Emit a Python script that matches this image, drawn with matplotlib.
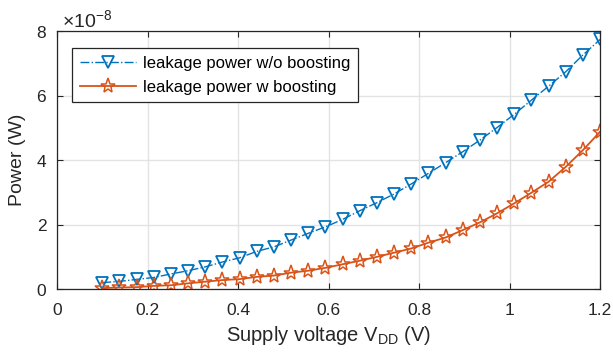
import numpy as np
import matplotlib
matplotlib.use("Agg")
import matplotlib.pyplot as plt
from matplotlib.ticker import ScalarFormatter, FormatStrFormatter

plt.rcParams['font.family'] = ['Liberation Sans', 'DejaVu Sans']
plt.rcParams['mathtext.fontset'] = 'custom'
plt.rcParams['mathtext.rm'] = 'Liberation Sans'

# supply voltage (V), 30 points from 0.1 to 1.2
vdd = np.linspace(0.1, 1.2, 30)

# leakage power in units of 1e-8 W
p_no_boost = [0.20, 0.24, 0.30, 0.36, 0.47, 0.57, 0.69, 0.84, 0.97, 1.17,
              1.31, 1.52, 1.73, 1.93, 2.16, 2.43, 2.68, 2.95, 3.26, 3.59,
              3.92, 4.26, 4.62, 5.01, 5.42, 5.86, 6.29, 6.74, 7.26, 7.74]
p_boost = [0.03, 0.05, 0.06, 0.10, 0.12, 0.18, 0.23, 0.28, 0.31, 0.38,
           0.42, 0.51, 0.57, 0.66, 0.77, 0.88, 1.00, 1.13, 1.26, 1.44,
           1.60, 1.83, 2.07, 2.35, 2.66, 2.99, 3.33, 3.79, 4.31, 4.88]

labels = ["leakage power w/o boosting", "leakage power w boosting"]
xticks = [0, 0.2, 0.4, 0.6, 0.8, 1.0, 1.2]
yticks = [0, 2e-8, 4e-8, 6e-8, 8e-8]

blue = '#0072BD'
orange = '#D95319'
axcol = '#262626'

fig = plt.figure(figsize=(6.13, 3.53), dpi=100)
ax = fig.add_axes([0.093, 0.181, 0.886, 0.731])

ax.plot(vdd, np.array(p_no_boost) * 1e-8, linestyle='-.', color=blue, lw=1.0,
        marker='v', markersize=9, markerfacecolor='none', markeredgewidth=1.3,
        label=labels[0])
ax.plot(vdd, np.array(p_boost) * 1e-8, linestyle='-', color=orange, lw=1.3,
        marker='*', markersize=11, markerfacecolor='none', markeredgewidth=1.1,
        label=labels[1])

ax.set_xlim(0, 1.2)
ax.set_ylim(0, 8e-8)
ax.set_xticks(xticks)
ax.set_yticks(yticks)
ax.xaxis.set_major_formatter(FormatStrFormatter('%g'))
fmt = ScalarFormatter(useMathText=True)
fmt.set_powerlimits((0, 0))
ax.yaxis.set_major_formatter(fmt)

ax.grid(True, color='#e3e3e3', lw=1.0)
ax.set_axisbelow(True)
ax.tick_params(direction='in', top=True, right=True, length=4, width=0.8,
               colors=axcol, labelsize=12.5, labelcolor=axcol)
ax.tick_params(axis='x', pad=10)
ax.tick_params(axis='y', pad=7)
for s in ax.spines.values():
    s.set_color(axcol)
    s.set_linewidth(0.9)
off = ax.yaxis.get_offset_text()
off.set_fontsize(14)
off.set_color(axcol)
off.set_x(0.01)

ax.set_xlabel(r"Supply voltage V$_{\mathregular{DD}}$ (V)", fontsize=14.5,
              color=axcol, labelpad=4)
ax.set_ylabel("Power (W)", fontsize=14, color=axcol, labelpad=7)

leg = ax.legend(loc='upper left', bbox_to_anchor=(0.028, 0.934), borderaxespad=0,
                fontsize=12, frameon=True, fancybox=False, edgecolor=axcol,
                framealpha=1, handlelength=3.4, handletextpad=0.4,
                borderpad=0.45, labelspacing=0.55)
leg.get_frame().set_linewidth(0.9)

fig.savefig("out.png", dpi=100)
